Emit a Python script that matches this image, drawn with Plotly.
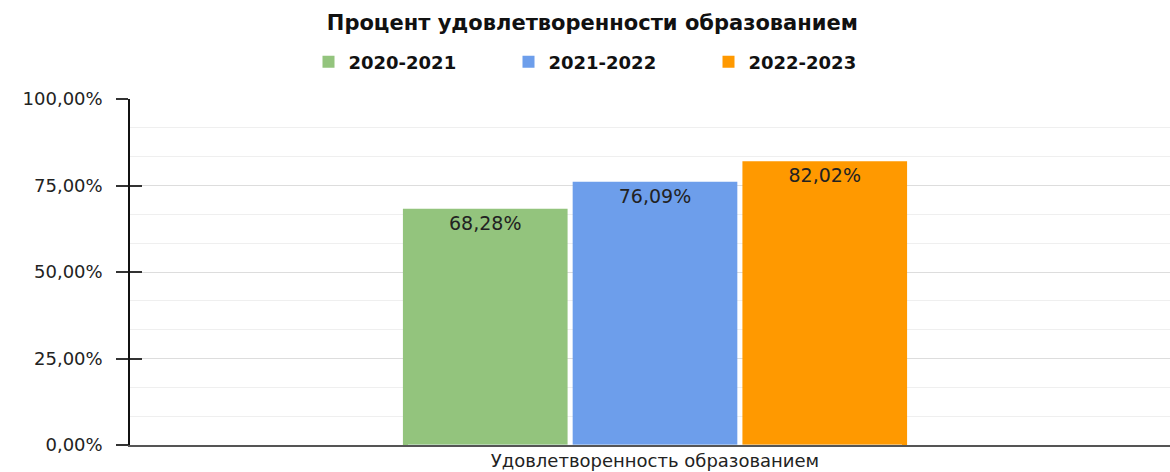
import plotly.graph_objects as go

# data
category = ["Удовлетворенность образованием"]
years = ["2020-2021", "2021-2022", "2022-2023"]
values = [68.28, 76.09, 82.02]
colors = ["#93c47d", "#6d9eeb", "#ff9900"]
y_ticks = [0, 25, 50, 75, 100]
y_labels = ["0,00%", "25,00%", "50,00%", "75,00%", "100,00%"]

FONT = "DejaVu Sans, Arial"

fig = go.Figure()
for name, val, col in zip(years, values, colors):
    fig.add_trace(go.Bar(
        x=category, y=[val], name=name,
        marker=dict(color=col, line=dict(width=0)),
        texttemplate="%{y:.2f}%", textposition="inside",
        insidetextanchor="end", textangle=0,
        textfont=dict(size=19, color="#222222", family=FONT),
        hovertemplate="%{y:.2f}%<extra>" + name + "</extra>",
    ))

# invisible copy on a second axis just to get the inside half of the crossing ticks
fig.add_trace(go.Bar(x=category, y=[0], yaxis="y2", showlegend=False,
                     hoverinfo="skip", marker=dict(color="rgba(0,0,0,0)")))

# plot area runs a little past the right edge of the window in the reference
fig.update_layout(
    width=1180, height=472,
    margin=dict(l=130, r=0, t=99, b=27),
    paper_bgcolor="white", plot_bgcolor="white",
    separators=", ",
    font=dict(family=FONT, color="#222222"),
    title=dict(text="Процент удовлетворенности образованием",
               xref="container", x=0.502, xanchor="center", y=0.953, yanchor="middle",
               font=dict(size=21, color="#111111", weight="bold")),
    legend=dict(orientation="h", x=0.17, xanchor="left",
                y=1.107, yanchor="middle",
                font=dict(size=18, color="#111111", weight="bold"),
                itemwidth=30, entrywidth=155, traceorder="normal"),
    barmode="group", bargap=0.515, bargroupgap=0.03,
    xaxis=dict(showline=True, linecolor="#555555", linewidth=1.5, automargin=False,
               tickfont=dict(size=18), ticks="", showgrid=False,
               ticklabelstandoff=-1),
    yaxis=dict(range=[0, 100], tickvals=y_ticks, ticktext=y_labels, automargin=False,
               tickfont=dict(size=18), showline=True, linecolor="#111111", linewidth=1.5,
               ticks="outside", ticklen=12, tickcolor="#333333", tickwidth=1.5,
               ticklabelstandoff=10,
               gridcolor="#dddddd", zeroline=False,
               minor=dict(dtick=25 / 3, showgrid=True, gridcolor="#efefef")),
    yaxis2=dict(range=[0, 100], overlaying="y", side="left", tickvals=y_ticks,
                showticklabels=False, ticks="inside", ticklen=12, tickcolor="#333333",
                tickwidth=1.5, showgrid=False, zeroline=False, automargin=False),
)

# the page body has a default 8px margin; drop it so the figure sits at the corner
fig.write_html("out.html", config={"displayModeBar": False},
               post_script="document.body.style.margin='0';"
                           "document.body.style.overflow='hidden';")
